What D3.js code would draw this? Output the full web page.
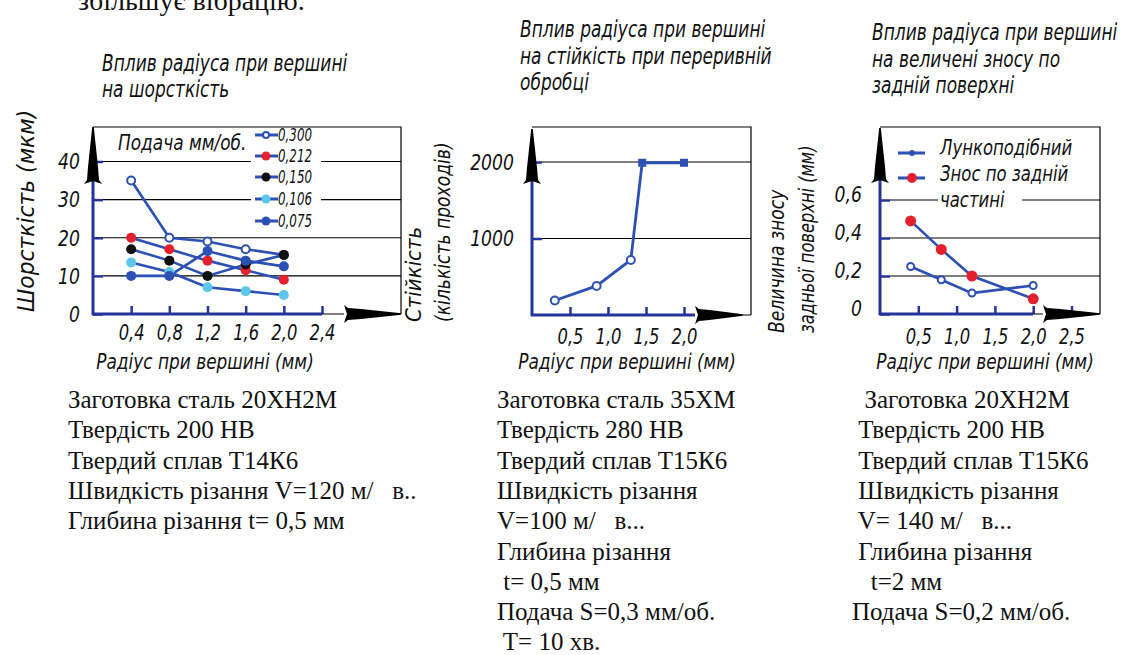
<!DOCTYPE html>
<html>
<head>
<meta charset="utf-8">
<script src="https://cdn.jsdelivr.net/npm/d3@7"></script>
<style>
  html, body { margin: 0; padding: 0; background: #fff; }
  svg { display: block; }
  .note { font-family: "Liberation Serif", "DejaVu Serif", serif; font-size: 25px; white-space: pre; fill: #111; }
</style>
</head>
<body>
<div id="chart"></div>
<script>
// chart 1: roughness vs nose radius, one series per feed
var radius1 = [0.4, 0.8, 1.2, 1.6, 2.0];
var feedLabels = ['0,300', '0,212', '0,150', '0,106', '0,075'];
var rough300 = [35, 20, 19, 17, 15.5];
var rough212 = [20, 17, 14, 11.5, 9];
var rough150 = [17, 14, 10, 13, 15.5];
var rough106 = [13.5, 11, 7, 6, 5];
var rough075 = [10, 10, 16.5, 14, 12.5];
var roughTicks = [0, 10, 20, 30, 40];
var radiusTicks1 = [0.4, 0.8, 1.2, 1.6, 2.0, 2.4];

// chart 2: tool life vs nose radius
var radius2 = [0.3, 0.85, 1.3, 1.45, 2.0];
var toolLife = [190, 380, 720, 1990, 1990];
var lifeTicks = [1000, 2000];
var radiusTicks2 = [0.5, 1.0, 1.5, 2.0];

// chart 3: wear vs nose radius
var radius3 = [0.4, 0.8, 1.2, 2.0];
var craterWear = [0.25, 0.18, 0.11, 0.15];
var flankWear = [0.49, 0.34, 0.2, 0.08];
var wearTicks = [0, 0.2, 0.4, 0.6];
var radiusTicks3 = [0.5, 1.0, 1.5, 2.0, 2.5];
var wearLabels = ['Лункоподібний', 'Знос по задній', 'частині'];

var notes1 = ['Заготовка сталь 20ХН2М', 'Твердість 200 НВ', 'Твердий сплав Т14К6',
  'Швидкість різання V=120 м/   в..', 'Глибина різання t= 0,5 мм'];
var notes2 = ['Заготовка сталь 35ХМ', 'Твердість 280 НВ', 'Твердий сплав Т15К6',
  'Швидкість різання', 'V=100 м/   в...', 'Глибина різання', ' t= 0,5 мм',
  'Подача S=0,3 мм/об.', ' T= 10 хв.'];
var notes3 = ['  Заготовка 20ХН2М', ' Твердість 200 НВ', ' Твердий сплав Т15К6',
  ' Швидкість різання', ' V= 140 м/   в...', ' Глибина різання', '   t=2 мм',
  'Подача S=0,2 мм/об.'];

var width = 1137;
var height = 655;
var axisBlue = '#25339a';
var lineBlue = '#2c50b3';
var GOST = '"DejaVu Sans", "Liberation Sans", sans-serif';

var svg = d3.select('#chart')
  .append('svg')
  .attr('width', width)
  .attr('height', height);

svg.append('rect').attr('width', width).attr('height', height).attr('fill', '#fff');

var loc = d3.formatLocale({ decimal: ',', thousands: ' ', grouping: [3], currency: ['', ''] });
var f1 = loc.format('.1f');

// narrow italic "drafting" text
function gost(g, x, y, str, size, anchor, rot, sx) {
  return g.append('text')
    .attr('transform', 'translate(' + x + ',' + y + ')' + (rot ? ' rotate(-90)' : '') + ' scale(' + (sx || 0.8) + ',1)')
    .attr('font-family', GOST)
    .attr('font-style', 'italic')
    .attr('font-size', size)
    .attr('text-anchor', anchor || 'start')
    .attr('fill', '#111')
    .text(str);
}

// black "rocket" arrow pointing along +x, base at 0, tip at len
function arrow(g, x, y, len, rot) {
  var p = 'M0,-9 L4,-6 L' + (len * 0.3) + ',-5 L' + (len * 0.8) + ',-2 L' + len + ',-0.8 L' + len + ',0.8 L' +
    (len * 0.8) + ',2 L' + (len * 0.3) + ',5 L4,6 L0,9 L3,0 Z';
  g.append('path')
    .attr('transform', 'translate(' + x + ',' + y + ')' + (rot ? ' rotate(' + rot + ')' : ''))
    .attr('d', p)
    .attr('fill', '#000');
}

function frame(g, x0, x1, y0, y1) {
  g.append('path')
    .attr('d', 'M' + x0 + ',' + y0 + ' H' + x1 + ' V' + y1)
    .attr('fill', 'none').attr('stroke', '#000').attr('stroke-width', 1.2);
}

function grid(g, y, ticks, x0, x1) {
  g.selectAll(null)
    .data(ticks.filter(function(d) { return d !== 0; }))
    .enter().append('line')
    .attr('x1', x0 + 10).attr('x2', x1)
    .attr('y1', function(d) { return y(d); })
    .attr('y2', function(d) { return y(d); })
    .attr('stroke', '#000').attr('stroke-width', 1.2);
}

function yAxis(g, y, x0, ticks, fmt, pad, dy) {
  var ax = g.append('g')
    .attr('transform', 'translate(' + x0 + ',0)')
    .call(d3.axisLeft(y).tickValues(ticks).tickSize(-10).tickPadding(pad).tickFormat(fmt));
  ax.select('.domain').remove();
  ax.selectAll('.tick line').attr('stroke', axisBlue).attr('stroke-width', 2.5);
  ax.selectAll('.tick text')
    .attr('font-family', GOST).attr('font-style', 'italic').attr('font-size', 21)
    .attr('fill', '#111').attr('dy', dy || '0.35em')
    .attr('transform', 'scale(0.82,1)');
  return ax;
}

function xAxis(g, x, y0, ticks, fmt, pad) {
  var ax = g.append('g')
    .attr('transform', 'translate(0,' + y0 + ')')
    .call(d3.axisBottom(x).tickValues(ticks).tickSize(-8).tickPadding(pad).tickFormat(fmt));
  ax.select('.domain').remove();
  ax.selectAll('.tick line').attr('stroke', axisBlue).attr('stroke-width', 2.5);
  ax.selectAll('.tick text')
    .attr('font-family', GOST).attr('font-style', 'italic').attr('font-size', 21)
    .attr('fill', '#111')
    .attr('transform', 'scale(0.78,1)');
  return ax;
}

function axisLines(g, ox, oy, xEnd, yTop) {
  g.append('line').attr('x1', ox).attr('x2', ox).attr('y1', oy + 1).attr('y2', yTop)
    .attr('stroke', axisBlue).attr('stroke-width', 3);
  g.append('line').attr('x1', ox - 1).attr('x2', xEnd).attr('y1', oy).attr('y2', oy)
    .attr('stroke', axisBlue).attr('stroke-width', 3);
}

// cut-off line of the surrounding text
svg.append('text').attr('class', 'note').attr('x', 78).attr('y', 10)
  .style('font-size', '28px').text('збільшує вібрацію.');

// ---------------- chart 1 ----------------
var g1 = svg.append('g');
var x1 = d3.scaleLinear().domain([0, 2.4]).range([93, 322]);
var y1 = d3.scaleLinear().domain([0, 40]).range([314, 161.5]);

frame(g1, 93, 401, 127, 314);
grid(g1, y1, roughTicks, 93, 401);
yAxis(g1, y1, 93, roughTicks, d3.format('d'), 16);
xAxis(g1, x1, 314, radiusTicks1, f1, 11);
axisLines(g1, 93, 314, 322, 180);
g1.append('line').attr('x1', 322).attr('x2', 344).attr('y1', 314).attr('y2', 314).attr('stroke', '#000');
arrow(g1, 344, 314, 57, 0);
arrow(g1, 93, 184, 57, -90);

var feedSeries = [rough300, rough212, rough150, rough106, rough075];
var feedFill = ['#fff', '#e5202e', '#111', '#5cc7ea', lineBlue];
var line1 = d3.line()
  .x(function(d, i) { return x1(radius1[i]); })
  .y(function(d) { return y1(d); });

feedSeries.forEach(function(s) {
  g1.append('path').attr('d', line1(s))
    .attr('fill', 'none').attr('stroke', lineBlue).attr('stroke-width', 2.6);
});
feedSeries.forEach(function(s, k) {
  g1.selectAll(null).data(s).enter().append('circle')
    .attr('cx', function(d, i) { return x1(radius1[i]); })
    .attr('cy', function(d) { return y1(d); })
    .attr('r', k === 0 ? 4 : 5)
    .attr('fill', feedFill[k])
    .attr('stroke', k === 0 ? lineBlue : 'none')
    .attr('stroke-width', 2);
});

// legend 1
g1.append('rect').attr('x', 251).attr('y', 128).attr('width', 70).attr('height', 103).attr('fill', '#fff');
gost(g1, 118, 150, 'Подача мм/об.', 22, 'start', false, 0.77);
feedLabels.forEach(function(lab, k) {
  var ly = [135, 156, 177, 199, 221][k];
  g1.append('line').attr('x1', 255).attr('x2', 278).attr('y1', ly).attr('y2', ly)
    .attr('stroke', lineBlue).attr('stroke-width', 3);
  g1.append('circle').attr('cx', 266).attr('cy', ly).attr('r', k === 0 ? 3 : 4.5)
    .attr('fill', feedFill[k]).attr('stroke', k === 0 ? lineBlue : 'none').attr('stroke-width', 2);
  gost(g1, 278, ly + 6, lab, 18, 'start', false, 0.66);
});

gost(g1, 102, 71, 'Вплив радіуса при вершині', 23, 'start', false, 0.74);
gost(g1, 102, 97, 'на шорсткість', 23, 'start', false, 0.74);
gost(g1, 34, 312, 'Шорсткість (мкм)', 23, 'start', true, 0.95);
gost(g1, 205, 369, 'Радіус при вершині (мм)', 22, 'middle', false, 0.77);

// ---------------- chart 2 ----------------
var g2 = svg.append('g');
var x2 = d3.scaleLinear().domain([0, 2]).range([532, 684]);
var y2 = d3.scaleLinear().domain([0, 2000]).range([315, 162]);

frame(g2, 532, 751, 127, 315);
g2.append('line').attr('x1', 743).attr('x2', 751).attr('y1', 315).attr('y2', 315).attr('stroke', '#000');
grid(g2, y2, lifeTicks, 532, 751);
yAxis(g2, y2, 532, lifeTicks, d3.format('d'), 22);
xAxis(g2, x2, 315, radiusTicks2, f1, 14);
axisLines(g2, 532, 315, 695, 180);
arrow(g2, 695, 315, 48, 0);
arrow(g2, 532, 184, 55, -90);

var line2 = d3.line()
  .x(function(d, i) { return x2(radius2[i]); })
  .y(function(d) { return y2(d); });
g2.append('path').attr('d', line2(toolLife))
  .attr('fill', 'none').attr('stroke', lineBlue).attr('stroke-width', 2.8);
g2.selectAll(null).data(toolLife).enter().each(function(d, i) {
  var cx = x2(radius2[i]), cy = y2(d);
  if (i < 3) {
    g2.append('circle').attr('cx', cx).attr('cy', cy).attr('r', 4)
      .attr('fill', '#fff').attr('stroke', lineBlue).attr('stroke-width', 2);
  } else {
    g2.append('rect').attr('x', cx - 4).attr('y', cy - 4).attr('width', 8).attr('height', 8)
      .attr('fill', lineBlue);
  }
});

gost(g2, 520, 37, 'Вплив радіуса при вершині', 23, 'start', false, 0.74);
gost(g2, 520, 64, 'на стійкість при переривній', 23, 'start', false, 0.74);
gost(g2, 520, 90, 'обробці', 23, 'start', false, 0.74);
gost(g2, 421, 322, 'Стійкість', 22, 'start', true, 0.9);
gost(g2, 450, 322, '(кількість проходів)', 22, 'start', true, 0.78);
gost(g2, 627, 369, 'Радіус при вершині (мм)', 22, 'middle', false, 0.77);

// ---------------- chart 3 ----------------
var g3 = svg.append('g');
var x3 = d3.scaleLinear().domain([0, 2.5]).range([880, 1071.5]);
var y3 = d3.scaleLinear().domain([0, 0.6]).range([314, 200]);

frame(g3, 880, 1100, 127, 314);
grid(g3, y3, wearTicks, 880, 1100);
yAxis(g3, y3, 880, wearTicks, function(d) { return d === 0 ? '0' : f1(d); }, 22, '0.05em');
xAxis(g3, x3, 314, radiusTicks3, f1, 15);
axisLines(g3, 880, 314, 1033, 180);
g3.append('line').attr('x1', 1033).attr('x2', 1043).attr('y1', 314).attr('y2', 314).attr('stroke', '#000');
arrow(g3, 1043, 314, 57, 0);
arrow(g3, 880, 183, 55, -90);

var line3 = d3.line()
  .x(function(d, i) { return x3(radius3[i]); })
  .y(function(d) { return y3(d); });
[craterWear, flankWear].forEach(function(s) {
  g3.append('path').attr('d', line3(s))
    .attr('fill', 'none').attr('stroke', lineBlue).attr('stroke-width', 2.6);
});
g3.selectAll(null).data(craterWear).enter().append('circle')
  .attr('cx', function(d, i) { return x3(radius3[i]); })
  .attr('cy', function(d) { return y3(d); })
  .attr('r', 3.5).attr('fill', '#fff').attr('stroke', lineBlue).attr('stroke-width', 2);
g3.selectAll(null).data(flankWear).enter().append('circle')
  .attr('cx', function(d, i) { return x3(radius3[i]); })
  .attr('cy', function(d) { return y3(d); })
  .attr('r', 5.5).attr('fill', '#e5202e');

// legend 3
[153, 178].forEach(function(ly, k) {
  g3.append('line').attr('x1', 898).attr('x2', 925).attr('y1', ly).attr('y2', ly)
    .attr('stroke', lineBlue).attr('stroke-width', 3);
  g3.append('circle').attr('cx', 912).attr('cy', ly).attr('r', k === 0 ? 3 : 5)
    .attr('fill', k === 0 ? lineBlue : '#e5202e');
});
wearLabels.forEach(function(lab, k) {
  var ty = 155 + k * 26;
  if (k === 2) {
    g3.append('rect').attr('x', 938).attr('y', ty - 17).attr('width', 84).attr('height', 23).attr('fill', '#fff');
  }
  gost(g3, 940, ty, lab, 22, 'start', false, 0.75);
});

gost(g3, 872, 40, 'Вплив радіуса при вершині', 23, 'start', false, 0.74);
gost(g3, 872, 67, 'на величені зносу по', 23, 'start', false, 0.74);
gost(g3, 872, 93, 'задній поверхні', 23, 'start', false, 0.74);
gost(g3, 784, 333, 'Величина зносу', 22, 'start', true, 0.78);
gost(g3, 814, 333, 'задньої поверхні (мм)', 22, 'start', true, 0.74);
gost(g3, 985, 369, 'Радіус при вершині (мм)', 22, 'middle', false, 0.77);

// ---------------- notes ----------------
function notes(lines, x) {
  svg.selectAll(null).data(lines).enter().append('text')
    .attr('class', 'note')
    .attr('x', x)
    .attr('y', function(d, i) { return 408 + i * 30.3; })
    .text(function(d) { return d; });
}
notes(notes1, 68);
notes(notes2, 497);
notes(notes3, 852);
</script>
</body>
</html>
